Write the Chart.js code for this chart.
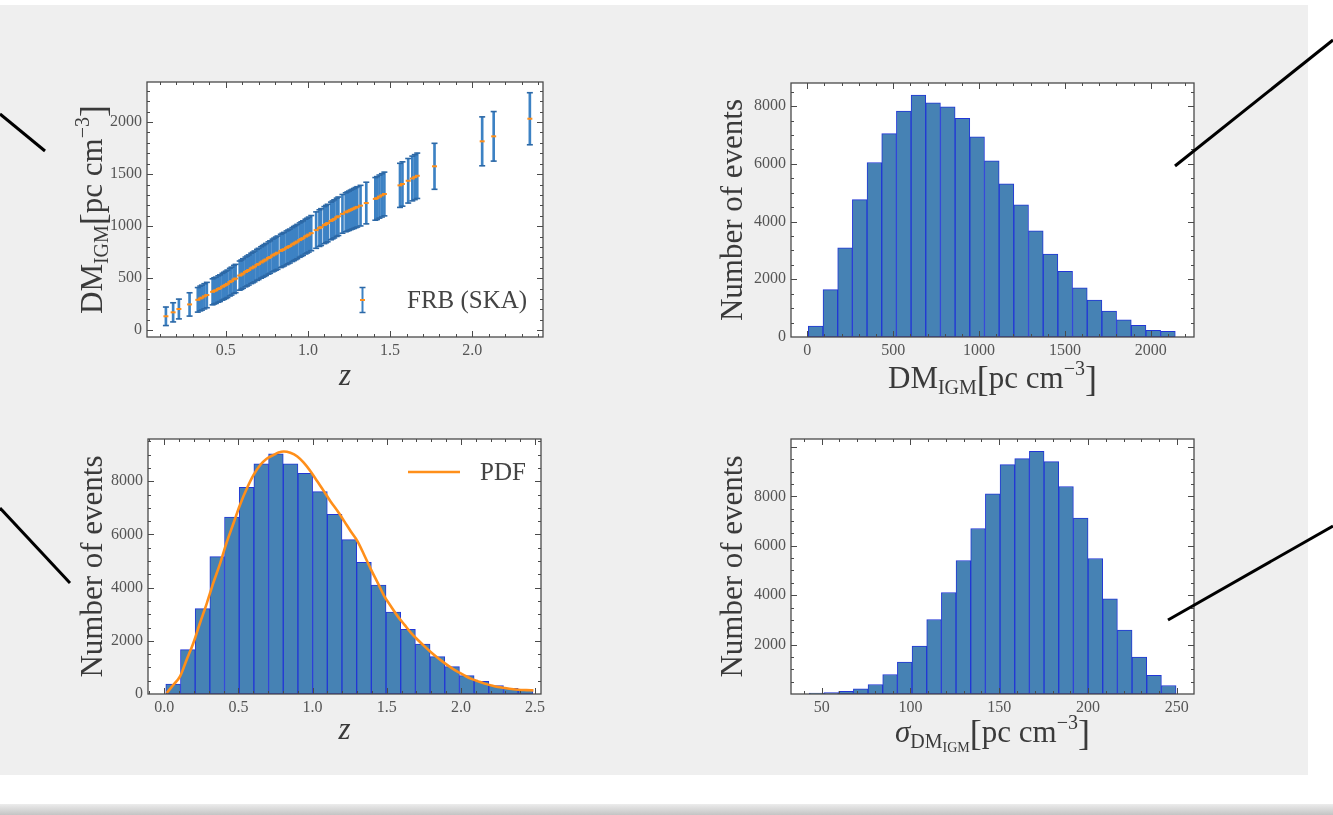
<!DOCTYPE html>
<html lang="en">
<head>
<meta charset="utf-8">
<title>FRB (SKA) mock sample</title>
<script src="https://cdn.jsdelivr.net/npm/chart.js@4.4.1/dist/chart.umd.min.js"></script>
<style>
  html, body { margin: 0; padding: 0; background: #fff; }
  #page { position: relative; width: 1333px; height: 815px; overflow: hidden; }
  #panel { position: absolute; left: 0; top: 5px; width: 1308px; height: 770px; background: #efefef; }
  #shade { position: absolute; left: 0; top: 804px; width: 1333px; height: 11px;
           background: linear-gradient(#ececec, #c4c4c4); }
  canvas { position: absolute; }
  #pointers { position: absolute; left: 0; top: 0; }
</style>
</head>
<body>
<div id="page">
  <div id="panel"></div>
  <div id="shade"></div>
  <canvas id="dmVsZ" width="520" height="340" style="left:40px;top:62px"></canvas>
  <canvas id="dmHist" width="532" height="340" style="left:680px;top:62px"></canvas>
  <canvas id="zHist" width="520" height="340" style="left:40px;top:419px"></canvas>
  <canvas id="sigmaHist" width="532" height="340" style="left:680px;top:419px"></canvas>
  <svg id="pointers" width="1333" height="815">
    <g stroke="#000" stroke-width="3">
      <line x1="0" y1="114" x2="45" y2="151"/>
      <line x1="0" y1="508" x2="70" y2="583"/>
      <line x1="1333" y1="40" x2="1175" y2="166"/>
      <line x1="1333" y1="526" x2="1168" y2="620"/>
    </g>
  </svg>
</div>
<script>
// 1) DM_IGM vs z for the FRB (SKA) sample, 1-sigma bars
const frbZ = [0.136, 0.18, 0.215, 0.28,
  0.33, 0.345, 0.355, 0.37, 0.385,
  0.42, 0.43, 0.44, 0.455, 0.465, 0.48, 0.49, 0.5, 0.51, 0.525, 0.535, 0.55, 0.56,
  0.585, 0.595, 0.605, 0.62, 0.63, 0.64, 0.655, 0.665, 0.675, 0.69, 0.7, 0.715, 0.725, 0.735, 0.745, 0.76, 0.77, 0.785, 0.795, 0.805, 0.815,
  0.835, 0.845, 0.855, 0.87, 0.88, 0.89, 0.905, 0.915, 0.925, 0.935, 0.95, 0.96, 0.97, 0.985, 0.995, 1.005, 1.02,
  1.05, 1.07, 1.08, 1.1, 1.11, 1.12, 1.14, 1.15, 1.16, 1.175, 1.185, 1.21, 1.23, 1.24, 1.25, 1.26, 1.27, 1.28, 1.29, 1.3, 1.32,
  1.355, 1.41, 1.42, 1.435, 1.45, 1.465, 1.56, 1.575, 1.61, 1.635, 1.65, 1.665, 1.77, 2.06, 2.13, 2.35];
const frbDM = [134, 172, 204, 248,
  292, 305, 313, 326, 338,
  369, 378, 384, 396, 404, 418, 427, 436, 446, 462, 472, 488, 497,
  525, 534, 545, 560, 569, 579, 594, 603, 613, 628, 637, 651, 661, 670, 680, 694, 703, 718, 727, 736, 745,
  762, 771, 779, 792, 801, 809, 823, 833, 842, 852, 866, 876, 885, 900, 909, 919, 933,
  962, 981, 991, 1010, 1020, 1030, 1050, 1060, 1070, 1085, 1095, 1118, 1133, 1141, 1148, 1156, 1163, 1170, 1178, 1185, 1197,
  1222, 1262, 1270, 1284, 1296, 1309, 1392, 1405, 1436, 1458, 1471, 1484, 1575, 1815, 1863, 2032];
const frbErr = [89, 92, 95, 112,
  118, 119, 120, 121, 122,
  125, 126, 126, 127, 128, 129, 130, 131, 132, 133, 134, 135, 136,
  140, 141, 142, 143, 144, 145, 146, 147, 148, 149, 150, 151, 152, 153, 154, 155, 156, 157, 158, 159, 160,
  160, 161, 161, 162, 162, 163, 163, 164, 164, 165, 165, 166, 166, 167, 167, 168, 169,
  175, 176, 177, 178, 179, 180, 181, 182, 183, 184, 185, 186, 187, 188, 189, 190, 191, 192, 193, 194, 195,
  200, 205, 206, 207, 208, 210, 212, 213, 214, 215, 216, 218, 221, 235, 238, 250];

// 2) DM_IGM histogram (25 bins)
const dmEdges = [6, 91.5, 177, 262.4, 347.9, 433.4, 518.9, 604.4, 689.8, 775.3, 860.8, 946.3, 1031.8,
  1117.2, 1202.7, 1288.2, 1373.7, 1459.2, 1544.6, 1630.1, 1715.6, 1801.1, 1886.6, 1972, 2057.5, 2143];
const dmCounts = [379, 1644, 3092, 4759, 6046, 7046, 7828, 8379, 8115, 7977, 7575, 6931, 6103,
  5310, 4575, 3678, 2874, 2276, 1701, 1276, 897, 598, 402, 230, 195];

// 3) redshift histogram + PDF
const zEdges = [0.01, 0.109, 0.208, 0.307, 0.406, 0.505, 0.604, 0.703, 0.802, 0.901, 1.0, 1.099, 1.198,
  1.297, 1.396, 1.495, 1.594, 1.693, 1.792, 1.891, 1.99, 2.089, 2.188, 2.287, 2.386, 2.485];
const zCounts = [376, 1668, 3210, 5166, 6658, 7774, 8652, 9028, 8652, 8301, 7611, 6759, 5806,
  4953, 4100, 3085, 2433, 1881, 1404, 1028, 690, 476, 313, 213, 138];
const pdfZ = [0.016, 0.06, 0.106, 0.15, 0.196, 0.24, 0.287, 0.33, 0.377, 0.42, 0.467, 0.51, 0.558, 0.6,
  0.648, 0.69, 0.738, 0.77, 0.806, 0.85, 0.897, 0.94, 0.987, 1.03, 1.077, 1.12, 1.168, 1.213, 1.258,
  1.303, 1.35, 1.394, 1.44, 1.484, 1.53, 1.574, 1.62, 1.665, 1.71, 1.755, 1.8, 1.845, 1.89, 1.936, 1.98,
  2.026, 2.07, 2.116, 2.16, 2.207, 2.25, 2.297, 2.34, 2.387, 2.44, 2.489];
const pdfN = [38, 340, 662, 1280, 1917, 2660, 3421, 4170, 4925, 5690, 6429, 7110, 7744, 8220,
  8620, 8850, 8996, 9080, 9120, 9070, 8932, 8700, 8368, 8010, 7620, 7250, 6880, 6500, 6110,
  5740, 5200, 4680, 4170, 3670, 3280, 2920, 2600, 2290, 2030, 1790, 1560, 1350, 1160, 980, 830,
  690, 570, 475, 390, 320, 265, 225, 190, 160, 145, 135];

// 4) sigma_DM_IGM histogram
const sigmaEdges = [43.05, 51.31, 59.57, 67.84, 76.1, 84.36, 92.62, 100.88, 109.15, 117.41, 125.67, 133.93,
  142.19, 150.46, 158.72, 166.98, 175.24, 183.5, 191.77, 200.03, 208.29, 216.55, 224.81, 233.08, 241.34, 249.6];
const sigmaCounts = [35, 62, 103, 210, 385, 790, 1289, 1936, 3016, 4108, 5403, 6698, 8100,
  9286, 9528, 9825, 9407, 8396, 7117, 5485, 3850, 2582, 1496, 760, 345];

const SERIF = '"Liberation Serif", "DejaVu Serif", serif';
const BAR_FILL = '#4682b4';
const BAR_EDGE = '#2136d6';
const ERR_BLUE = '#3d82c4';
const CAP_BLUE = '#2c68a6';
const ORANGE = '#ff8f1a';

Chart.defaults.font.family = SERIF;
Chart.defaults.color = '#555';

const isMajor = (v, step) => Math.abs(v / step - Math.round(v / step)) < 1e-6;

// linear axis with every minor step as a tick, labels only on majors
function axis(min, max, minor, major, fmt, size, pad) {
  return {
    type: 'linear', min, max, offset: false,
    grid: { display: false, drawTicks: false, offset: false }, border: { display: false },
    ticks: {
      autoSkip: false, maxRotation: 0, padding: pad, font: { size: 16 }, color: '#555',
      callback: v => isMajor(v, major) ? fmt(v) : ''
    },
    afterBuildTicks: s => {
      const ticks = [];
      for (let k = Math.ceil(min / minor - 1e-9); k * minor <= max + 1e-9; k++) {
        ticks.push({ value: Math.round(k * minor * 1e6) / 1e6 });
      }
      s.ticks = ticks;
    },
    afterFit: s => { if (s.isHorizontal()) s.height = size; else s.width = size; }
  };
}

function histData(edges, counts) {
  return counts.map((c, i) => ({ x: (edges[i] + edges[i + 1]) / 2, y: c }));
}

function drawRich(ctx, parts, x, y, vertical) {
  ctx.save();
  ctx.translate(x, y);
  if (vertical) ctx.rotate(-Math.PI / 2);
  ctx.fillStyle = '#3a3a3a';
  ctx.textBaseline = 'alphabetic';
  ctx.textAlign = 'left';
  const fonts = parts.map(p => (p.italic ? 'italic ' : '') + p.size + 'px ' + SERIF);
  const widths = parts.map((p, i) => { ctx.font = fonts[i]; return ctx.measureText(p.text).width; });
  let cx = -widths.reduce((s, w) => s + w, 0) / 2;
  parts.forEach((p, i) => {
    ctx.font = fonts[i];
    ctx.fillText(p.text, cx, p.dy || 0);
    cx += widths[i];
  });
  ctx.restore();
}

// frame, inward ticks on all four sides, axis titles
function makeFrame(cfg) {
  return {
    id: 'frame',
    beforeDatasetsDraw(chart) {
      const { ctx, chartArea: a } = chart;
      ctx.save();
      ctx.fillStyle = '#fff';
      ctx.fillRect(a.left, a.top, a.right - a.left, a.bottom - a.top);
      ctx.restore();
    },
    afterDatasetsDraw(chart) {
      const { ctx, chartArea: a, scales: { x, y } } = chart;
      ctx.save();
      ctx.strokeStyle = '#4a4a4a';
      ctx.lineWidth = 1;
      ctx.beginPath();
      x.ticks.forEach(t => {
        const px = Math.round(x.getPixelForValue(t.value)) + 0.5;
        if (px <= a.left + 1 || px >= a.right - 1) return;
        const len = isMajor(t.value, cfg.xMajor) ? 6 : 3;
        ctx.moveTo(px, a.bottom); ctx.lineTo(px, a.bottom - len);
        ctx.moveTo(px, a.top); ctx.lineTo(px, a.top + len);
      });
      y.ticks.forEach(t => {
        const py = Math.round(y.getPixelForValue(t.value)) + 0.5;
        if (py <= a.top + 1 || py >= a.bottom - 1) return;
        const len = isMajor(t.value, cfg.yMajor) ? 6 : 3;
        ctx.moveTo(a.left, py); ctx.lineTo(a.left + len, py);
        ctx.moveTo(a.right, py); ctx.lineTo(a.right - len, py);
      });
      ctx.stroke();
      ctx.lineWidth = 1.3;
      ctx.strokeRect(a.left, a.top, a.right - a.left, a.bottom - a.top);
      ctx.restore();
    },
    afterDraw(chart) {
      const { ctx, chartArea: a } = chart;
      drawRich(ctx, cfg.xTitle, (a.left + a.right) / 2, a.bottom + cfg.xTitleDy, false);
      drawRich(ctx, cfg.yTitle, a.left - cfg.yTitleDx, (a.top + a.bottom) / 2, true);
      if (cfg.legend) cfg.legend(ctx, a);
    }
  };
}

const dmTitle = [
  { text: 'DM', size: 31 }, { text: 'IGM', size: 20, dy: 6 },
  { text: '[', size: 36, dy: 3 }, { text: 'pc cm', size: 31 },
  { text: '\u22123', size: 20, dy: -13 }, { text: ']', size: 36, dy: 3 }
];
const sigmaTitle = [
  { text: '\u03c3', size: 31, italic: true }, { text: 'DM', size: 20, dy: 6 },
  { text: 'IGM', size: 14, dy: 10 },
  { text: '[', size: 36, dy: 3 }, { text: 'pc cm', size: 31 },
  { text: '\u22123', size: 20, dy: -13 }, { text: ']', size: 36, dy: 3 }
];
const eventsTitle = [{ text: 'Number of events', size: 31 }];
const zTitle = [{ text: 'z', size: 31, italic: true }];

const common = {
  responsive: false, animation: false, events: [],
  plugins: { legend: { display: false }, tooltip: { enabled: false } }
};

// 1) DM_IGM vs z
new Chart(document.getElementById('dmVsZ'), {
  type: 'bar',
  data: {
    datasets: [
      {
        type: 'scatter', order: 0,
        data: frbZ.map((z, i) => ({ x: z, y: frbDM[i] })),
        pointStyle: 'line', pointRadius: 2.5, pointBorderWidth: 2, pointBorderColor: ORANGE
      },
      {
        type: 'scatter', order: 1,
        data: frbZ.flatMap((z, i) => [{ x: z, y: frbDM[i] - frbErr[i] }, { x: z, y: frbDM[i] + frbErr[i] }]),
        pointStyle: 'line', pointRadius: 3, pointBorderWidth: 1.6, pointBorderColor: CAP_BLUE
      },
      {
        type: 'bar', order: 2,
        data: frbZ.map((z, i) => ({ x: z, y: [frbDM[i] - frbErr[i], frbDM[i] + frbErr[i]] })),
        barThickness: 2, backgroundColor: ERR_BLUE, borderWidth: 0
      }
    ]
  },
  options: {
    ...common,
    layout: { padding: { top: 20, right: 17, left: 0, bottom: 0 } },
    scales: {
      x: axis(0.021, 2.43, 0.1, 0.5, v => v.toFixed(1), 65, 4),
      y: axis(-65, 2385, 100, 500, v => String(v), 107, 5)
    }
  },
  plugins: [makeFrame({
    xMajor: 0.5, yMajor: 500, xTitle: zTitle, xTitleDy: 48, yTitle: dmTitle, yTitleDx: 45,
    legend(ctx, a) {
      const gx = a.right - 181 + 0.5, gy = a.bottom - 37;
      ctx.save();
      ctx.strokeStyle = ERR_BLUE; ctx.lineWidth = 2;
      ctx.beginPath(); ctx.moveTo(gx, gy - 12.5); ctx.lineTo(gx, gy + 12.5); ctx.stroke();
      ctx.strokeStyle = CAP_BLUE; ctx.lineWidth = 1.6;
      ctx.beginPath();
      ctx.moveTo(gx - 3, gy - 12.5); ctx.lineTo(gx + 3, gy - 12.5);
      ctx.moveTo(gx - 3, gy + 12.5); ctx.lineTo(gx + 3, gy + 12.5);
      ctx.stroke();
      ctx.strokeStyle = ORANGE; ctx.lineWidth = 2;
      ctx.beginPath(); ctx.moveTo(gx - 2.5, gy); ctx.lineTo(gx + 2.5, gy); ctx.stroke();
      ctx.fillStyle = '#444'; ctx.font = '25px ' + SERIF;
      ctx.textBaseline = 'alphabetic'; ctx.textAlign = 'left';
      ctx.fillText('FRB (SKA)', a.right - 136, gy + 8);
      ctx.restore();
    }
  })]
});

// 2) DM_IGM histogram
new Chart(document.getElementById('dmHist'), {
  type: 'bar',
  data: {
    datasets: [{
      data: histData(dmEdges, dmCounts),
      backgroundColor: BAR_FILL, borderColor: BAR_EDGE, borderWidth: 1, borderSkipped: false,
      barPercentage: 1, categoryPercentage: 1
    }]
  },
  options: {
    ...common,
    layout: { padding: { top: 21, right: 18, left: 0, bottom: 0 } },
    scales: {
      x: axis(-95, 2252, 100, 500, v => String(v), 65, 4),
      y: axis(0, 8800, 500, 2000, v => String(v), 111, 5)
    }
  },
  plugins: [makeFrame({ xMajor: 500, yMajor: 2000, xTitle: dmTitle, xTitleDy: 51, yTitle: eventsTitle, yTitleDx: 49 })]
});

// 3) redshift histogram with PDF
new Chart(document.getElementById('zHist'), {
  type: 'bar',
  data: {
    datasets: [
      {
        type: 'line', order: 0,
        data: pdfZ.map((z, i) => ({ x: z, y: pdfN[i] })),
        borderColor: ORANGE, borderWidth: 2.6, pointRadius: 0, fill: false,
        cubicInterpolationMode: 'monotone'
      },
      {
        type: 'bar', order: 1,
        data: histData(zEdges, zCounts),
        backgroundColor: BAR_FILL, borderColor: BAR_EDGE, borderWidth: 1, borderSkipped: false,
        barPercentage: 1, categoryPercentage: 1
      }
    ]
  },
  options: {
    ...common,
    layout: { padding: { top: 20, right: 19, left: 0, bottom: 0 } },
    scales: {
      x: axis(-0.11, 2.54, 0.1, 0.5, v => v.toFixed(1), 65, 4),
      y: axis(0, 9590, 500, 2000, v => String(v), 108, 5)
    }
  },
  plugins: [makeFrame({
    xMajor: 0.5, yMajor: 2000, xTitle: zTitle, xTitleDy: 45, yTitle: eventsTitle, yTitleDx: 46,
    legend(ctx, a) {
      const ly = a.top + 33;
      ctx.save();
      ctx.strokeStyle = ORANGE; ctx.lineWidth = 2.6;
      ctx.beginPath(); ctx.moveTo(a.right - 133, ly); ctx.lineTo(a.right - 81, ly); ctx.stroke();
      ctx.fillStyle = '#444'; ctx.font = '25px ' + SERIF;
      ctx.textBaseline = 'alphabetic'; ctx.textAlign = 'left';
      ctx.fillText('PDF', a.right - 61, ly + 8);
      ctx.restore();
    }
  })]
});

// 4) sigma_DM_IGM histogram
new Chart(document.getElementById('sigmaHist'), {
  type: 'bar',
  data: {
    datasets: [{
      data: histData(sigmaEdges, sigmaCounts),
      backgroundColor: BAR_FILL, borderColor: BAR_EDGE, borderWidth: 1, borderSkipped: false,
      barPercentage: 1, categoryPercentage: 1
    }]
  },
  options: {
    ...common,
    layout: { padding: { top: 20, right: 18, left: 0, bottom: 0 } },
    scales: {
      x: axis(32.7, 259.7, 10, 50, v => String(v), 65, 4),
      y: axis(0, 10320, 500, 2000, v => (v > 0 && v < 10000 ? String(v) : ''), 111, 5)
    }
  },
  plugins: [makeFrame({ xMajor: 50, yMajor: 2000, xTitle: sigmaTitle, xTitleDy: 48, yTitle: eventsTitle, yTitleDx: 49 })]
});
</script>
</body>
</html>
